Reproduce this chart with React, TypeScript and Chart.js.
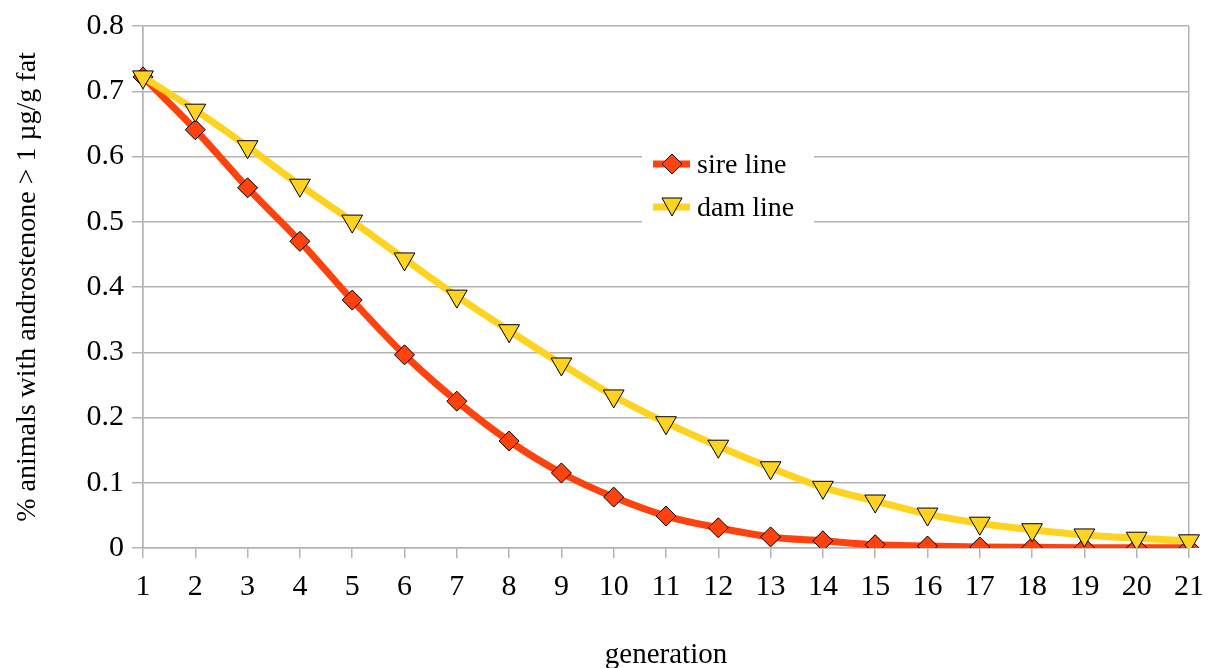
import React, { useEffect, useRef } from "react";
import { Chart, registerables } from "chart.js";
Chart.register(...registerables);

const generations = ["1","2","3","4","5","6","7","8","9","10","11","12","13","14","15","16","17","18","19","20","21"];
const sireLine = [0.722,0.641,0.552,0.470,0.380,0.296,0.225,0.164,0.115,0.078,0.049,0.031,0.017,0.011,0.005,0.003,0.0015,0.001,0.0005,0.0003,0.0002];
const damLine = [0.722,0.671,0.615,0.556,0.501,0.443,0.386,0.333,0.282,0.233,0.192,0.156,0.123,0.093,0.072,0.052,0.038,0.028,0.020,0.015,0.011];
const seriesNames = ["sire line", "dam line"];
const yTitle = "% animals with androstenone > 1 µg/g fat";
const xTitle = "generation";

const RED = "#ff420e";
const YELLOW = "#ffd320";
const GRID = "#b3b3b3";
const FONT = "'Liberation Serif', 'Times New Roman', serif";

const legendPlugin = {
  id: "customLegend",
  afterDraw(chart: any) {
    const ctx = chart.ctx;
    const x0 = 642, y0 = 142, w = 172, h = 90;
    ctx.save();
    ctx.fillStyle = "#ffffff";
    ctx.fillRect(x0, y0, w, h);
    const items = [
      { label: seriesNames[0], color: RED, style: "rectRot", y: 164 },
      { label: seriesNames[1], color: YELLOW, style: "triangle", y: 207 },
    ];
    items.forEach((it) => {
      ctx.fillStyle = it.color;
      ctx.fillRect(653, it.y - 3.5, 37, 7);
      ctx.strokeStyle = "#000";
      ctx.lineWidth = 1;
      ctx.fillStyle = it.color;
      ctx.beginPath();
      const cx = 672, cy = it.y;
      if (it.style === "rectRot") {
        const r = 10;
        ctx.moveTo(cx, cy - r); ctx.lineTo(cx + r, cy); ctx.lineTo(cx, cy + r); ctx.lineTo(cx - r, cy);
      } else {
        ctx.moveTo(cx - 10, cy - 9); ctx.lineTo(cx + 10, cy - 9); ctx.lineTo(cx, cy + 9);
      }
      ctx.closePath();
      ctx.fill();
      ctx.stroke();
      ctx.fillStyle = "#000";
      ctx.font = `28px ${FONT}`;
      ctx.textBaseline = "middle";
      ctx.textAlign = "left";
      ctx.fillText(it.label, 697, it.y + 2);
    });
    ctx.restore();
  },
};

export default function App() {
  const ref = useRef<HTMLCanvasElement | null>(null);
  useEffect(() => {
    if (!ref.current) return;
    const chart = new Chart(ref.current, {
      type: "line",
      data: {
        labels: generations,
        datasets: [
          {
            label: seriesNames[1],
            data: damLine,
            borderColor: YELLOW,
            backgroundColor: YELLOW,
            borderWidth: 7,
            tension: 0.4,
            cubicInterpolationMode: "monotone",
            pointStyle: "triangle",
            rotation: 180,
            pointRadius: 12,
            pointBorderColor: "#000",
            pointBorderWidth: 1,
            pointBackgroundColor: YELLOW,
          },
          {
            label: seriesNames[0],
            data: sireLine,
            borderColor: RED,
            backgroundColor: RED,
            borderWidth: 7,
            tension: 0.4,
            cubicInterpolationMode: "monotone",
            pointStyle: "rectRot",
            pointRadius: 10,
            pointBorderColor: "#000",
            pointBorderWidth: 1,
            pointBackgroundColor: RED,
          },
        ],
      },
      options: {
        animation: false,
        responsive: false,
        devicePixelRatio: 1,
        layout: { padding: { left: 0, right: 22, top: 26, bottom: 0 } },
        plugins: {
          legend: { display: false },
          tooltip: { enabled: false },
        },
        scales: {
          x: {
            offset: false,
            title: { display: true, text: xTitle, font: { family: FONT, size: 29 }, color: "#000", padding: { top: 38, bottom: -5 } },
            ticks: { font: { family: FONT, size: 30 }, color: "#000", maxRotation: 0, autoSkip: false, padding: 11 },
            grid: {
              color: (c: any) => (c.index === 0 || c.index === generations.length - 1 ? GRID : "rgba(0,0,0,0)"),
              tickColor: GRID,
              tickLength: 10,
              lineWidth: 1.5,
            },
            border: { color: GRID, width: 1.5 },
            afterFit: (s: any) => { s.height = 668 - 548; s.paddingRight = 0; s.paddingLeft = 0; },
          },
          y: {
            min: 0,
            max: 0.8,
            title: { display: true, text: yTitle, font: { family: FONT, size: 28 }, color: "#000", padding: { top: 11, bottom: 0 } },
            ticks: { stepSize: 0.1, font: { family: FONT, size: 30 }, color: "#000", padding: 8, callback: (v: any) => String(Math.round(Number(v) * 10) / 10) },
            grid: { color: GRID, tickColor: GRID, tickLength: 11, lineWidth: 1.5 },
            border: { color: GRID, width: 1.5 },
            afterFit: (s: any) => { s.width = 143; s.paddingTop = 0; s.paddingBottom = 0; },
          },
        },
      },
      plugins: [legendPlugin],
    } as any);
    return () => chart.destroy();
  }, []);
  return (
    <div style={{ position: "absolute", left: 0, top: 0, width: 1211, height: 668 }}>
      <canvas ref={ref} width={1211} height={668} style={{ width: 1211, height: 668 }} />
    </div>
  );
}
